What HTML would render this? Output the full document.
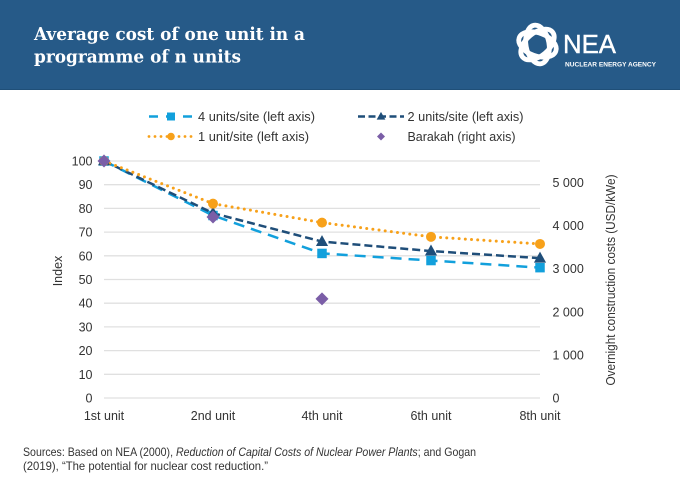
<!DOCTYPE html>
<html lang="en">
<head>
<meta charset="utf-8">
<title>Average cost of one unit in a programme of n units</title>
<style>
html,body{margin:0;padding:0;background:#fff;}
#page{position:relative;width:680px;height:486px;overflow:hidden;background:#fff;font-family:"Liberation Sans",sans-serif;}
#banner{position:absolute;left:0;top:0;width:680px;height:89px;background:#265a88;border-bottom:1px solid #1f4f78;}
svg{position:absolute;left:0;top:0;}
</style>
</head>
<body>
<div id="page">
  <div id="banner"></div>
  <svg width="680" height="486" viewBox="0 0 680 486" id="chart" font-family="'Liberation Sans',sans-serif">
    <g fill="#fff" font-family="'DejaVu Serif',serif" font-weight="bold" font-size="18">
      <text x="34" y="40" textLength="271" lengthAdjust="spacingAndGlyphs">Average cost of one unit in a</text>
      <text x="34" y="62.5" textLength="207" lengthAdjust="spacingAndGlyphs">programme of n units</text>
    </g>
    <g>
      <g fill="none" stroke="#fff">
        <ellipse cx="537.5" cy="44.5" rx="19.5" ry="11.5" stroke-width="4.8" transform="rotate(20 537.5 44.5)"/>
        <ellipse cx="537.5" cy="44.5" rx="19.5" ry="11.5" stroke-width="4.8" transform="rotate(80 537.5 44.5)"/>
        <ellipse cx="537.5" cy="44.5" rx="19.5" ry="11.5" stroke-width="4.8" transform="rotate(140 537.5 44.5)"/>
      </g>
      <text x="563" y="53" fill="#fff" font-size="25.5" stroke="#fff" stroke-width="0.4" textLength="53" lengthAdjust="spacingAndGlyphs">NEA</text>
      <text x="565" y="66.5" fill="#fff" font-size="6.4" font-weight="bold" textLength="91" lengthAdjust="spacingAndGlyphs">NUCLEAR ENERGY AGENCY</text>
    </g>
    <g id="grid"></g>
    <g id="axes"></g>
    <g id="series"></g>
    <g id="legend"></g>
    <g fill="#333" font-size="12">
      <text x="23" y="456" textLength="453" lengthAdjust="spacingAndGlyphs">Sources: Based on NEA (2000), <tspan font-style="italic">Reduction of Capital Costs of Nuclear Power Plants</tspan>; and Gogan</text>
      <text x="23" y="470" textLength="245" lengthAdjust="spacingAndGlyphs">(2019), “The potential for nuclear cost reduction.”</text>
    </g>
  </svg>
</div>
<script>
const categories = ['1st unit', '2nd unit', '4th unit', '6th unit', '8th unit'];
const fourUnits = [100, 77, 61, 58, 55];
const twoUnits = [100, 78, 66, 62, 59];
const oneUnit = [100, 82, 74, 68, 65];
const barakah = [5500, 4200, 2300];
const leftTicks = [0, 10, 20, 30, 40, 50, 60, 70, 80, 90, 100];
const rightTicks = [0, 1000, 2000, 3000, 4000, 5000];
const rightTickLabels = ['0', '1 000', '2 000', '3 000', '4 000', '5 000'];

const NS = 'http://www.w3.org/2000/svg';
const plot = { left: 104, right: 540, top: 161, bottom: 398, leftMax: 100, rightMax: 5500 };
const xAt = i => plot.left + (plot.right - plot.left) * i / (categories.length - 1);
const yLeft = v => plot.bottom - (plot.bottom - plot.top) * v / plot.leftMax;
const yRight = v => plot.bottom - (plot.bottom - plot.top) * v / plot.rightMax;

function mk(parent, tag, attrs, text) {
  const el = document.createElementNS(NS, tag);
  for (const k in attrs) el.setAttribute(k, attrs[k]);
  if (text !== undefined) el.textContent = text;
  parent.appendChild(el);
  return el;
}
function square(parent, x, y, s, fill) {
  return mk(parent, 'rect', { x: x - s / 2, y: y - s / 2, width: s, height: s, fill: fill });
}
function triangle(parent, x, y, s, fill) {
  return mk(parent, 'polygon', { points: `${x},${y - s * 0.62} ${x + s * 0.58},${y + s * 0.42} ${x - s * 0.58},${y + s * 0.42}`, fill: fill });
}
function circle(parent, x, y, r, fill) {
  return mk(parent, 'circle', { cx: x, cy: y, r: r, fill: fill });
}
function diamond(parent, x, y, s, fill) {
  return mk(parent, 'polygon', { points: `${x},${y - s} ${x + s},${y} ${x},${y + s} ${x - s},${y}`, fill: fill });
}

const grid = document.getElementById('grid');
const axes = document.getElementById('axes');
const seriesG = document.getElementById('series');
const legend = document.getElementById('legend');
const textColor = '#333';

leftTicks.forEach(t => {
  const y = yLeft(t);
  const line = mk(grid, 'line', { x1: plot.left, x2: plot.right, y1: y, y2: y, stroke: '#e0e0e0', 'stroke-width': 1.3 });
  
  
  const label = mk(axes, 'text', { x: 92.5, y: y + 4.5, 'text-anchor': 'end', 'font-size': 12.5, fill: textColor }, String(t));
  
  
});
rightTicks.forEach((t, i) => {
  const label = mk(axes, 'text', { x: 552.5, y: yRight(t) + 4.5, 'font-size': 12.5, fill: textColor }, rightTickLabels[i]);
  
  
});
categories.forEach((c, i) => {
  const label = mk(axes, 'text', { x: xAt(i), y: 420, 'text-anchor': 'middle', 'font-size': 12.5, fill: textColor }, c);
  
  
});
const yTitleL = mk(axes, 'text', { transform: 'translate(62 271) rotate(-90)', 'text-anchor': 'middle', 'font-size': 12.5, fill: textColor }, 'Index');


const yTitleR = mk(axes, 'text', { transform: 'translate(615 280) rotate(-90)', 'text-anchor': 'middle', 'font-size': 12.5, textLength: 211, lengthAdjust: 'spacingAndGlyphs', fill: textColor }, 'Overnight construction costs (USD/kWe)');



const blue = '#12a0dc', navy = '#1f4e79', orange = '#f7a11a', purple = '#7b5ea7';
function polyline(values, color, dash, width, cap) {
  const pts = values.map((v, i) => `${xAt(i)},${yLeft(v)}`).join(' ');
  return mk(seriesG, 'polyline', { points: pts, fill: 'none', stroke: color, 'stroke-width': width, 'stroke-dasharray': dash, 'stroke-linecap': cap });
}
const lineFour = polyline(fourUnits, blue, '11 7', 2.5, 'butt');


const lineTwo = polyline(twoUnits, navy, '8 4', 2.5, 'butt');


const lineOne = polyline(oneUnit, orange, '0 6.2', 3, 'round');



fourUnits.forEach((v, i) => {
  const m = square(seriesG, xAt(i), yLeft(v), 9.5, blue);
  
  
});
twoUnits.forEach((v, i) => {
  const m = triangle(seriesG, xAt(i), yLeft(v), 10.5, navy);
  
  
});
oneUnit.forEach((v, i) => {
  const m = circle(seriesG, xAt(i), yLeft(v), 5, orange);
  
  
});
barakah.forEach((v, i) => {
  const m = diamond(seriesG, xAt(i), yRight(v), 6.5, purple);
  
  
});

function legendLine(x1, x2, y, color, dash, width, cap) {
  return mk(legend, 'line', { x1: x1, x2: x2, y1: y, y2: y, stroke: color, 'stroke-width': width, 'stroke-dasharray': dash, 'stroke-linecap': cap });
}
function legendText(x, y, t, w) {
  return mk(legend, 'text', { x: x, y: y, 'font-size': 12.5, textLength: w, lengthAdjust: 'spacingAndGlyphs', fill: textColor }, t);
}
const l1 = legendLine(149, 193, 116.5, blue, '9 8', 2.4, 'butt');


const l1m = square(legend, 171, 116.5, 8, blue);


const l1t = legendText(198, 121, '4 units/site (left axis)', 117);



const l2 = legendLine(358, 404, 116.5, navy, '7 3.5', 2.4, 'butt');


const l2m = triangle(legend, 381, 116.5, 7.5, navy);


const l2t = legendText(407.5, 121, '2 units/site (left axis)', 116);



const l3 = legendLine(149, 192, 136.5, orange, '0 6', 2.8, 'round');


const l3m = circle(legend, 171, 136.5, 3.8, orange);


const l3t = legendText(198, 141, '1 unit/site (left axis)', 111);



const l4m = diamond(legend, 381, 136.5, 4, purple);


const l4t = legendText(407.5, 141, 'Barakah (right axis)', 108);


</script>
</body>
</html>
